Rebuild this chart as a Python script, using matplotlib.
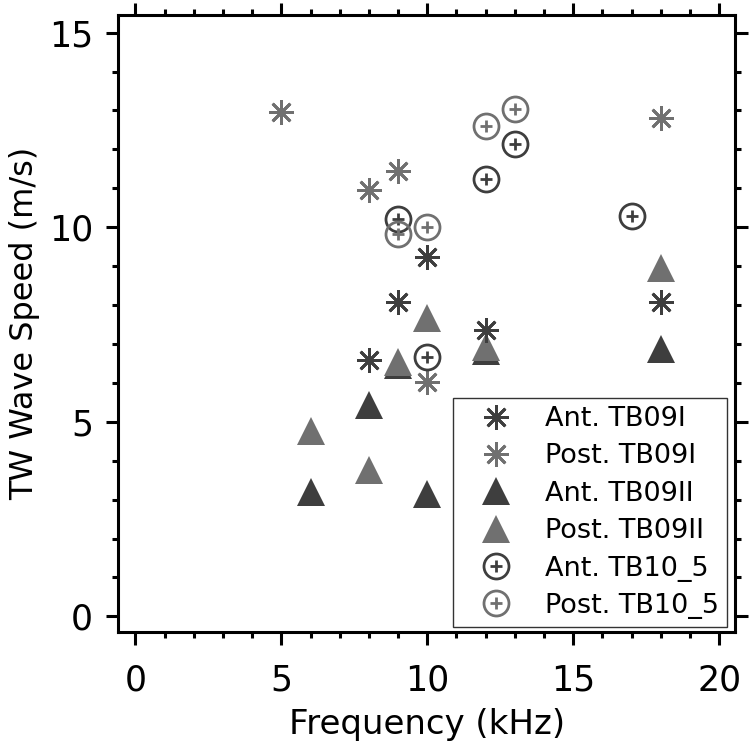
import matplotlib
matplotlib.use("Agg")
import matplotlib.pyplot as plt
from matplotlib.legend_handler import HandlerTuple
from matplotlib.ticker import MultipleLocator

plt.rcParams['font.family'] = ['DejaVu Sans']

# Data
ant_tb09i_f = [8, 9, 10, 12, 18]
ant_tb09i_v = [6.6, 8.08, 9.23, 7.36, 8.08]
post_tb09i_f = [5, 8, 9, 10, 18]
post_tb09i_v = [12.95, 10.95, 11.45, 6.03, 12.8]
ant_tb09ii_f = [6, 8, 9, 10, 12, 18]
ant_tb09ii_v = [3.19, 5.42, 6.47, 3.14, 6.81, 6.86]
post_tb09ii_f = [6, 8, 9, 10, 12, 18]
post_tb09ii_v = [4.76, 3.76, 6.53, 7.68, 6.93, 8.94]
ant_tb10_f = [9, 10, 12, 13, 17]
ant_tb10_v = [10.2, 6.67, 11.23, 12.15, 10.28]
post_tb10_f = [9, 10, 12, 13]
post_tb10_v = [9.82, 10.0, 12.59, 13.03]

labels = ["Ant. TB09I", "Post. TB09I", "Ant. TB09II", "Post. TB09II",
          "Ant. TB10_5", "Post. TB10_5"]

dark = '#3e3e3e'
gray = '#707070'

fig = plt.figure(figsize=(7.51, 7.45), dpi=100)
ax = fig.add_axes([0.157, 0.1517, 0.822, 0.828])

ast = (8, 2, 0)
ast_kw = dict(linestyle='none', marker=ast, markersize=18, markeredgewidth=2)
tri_kw = dict(linestyle='none', marker='^', markersize=19.5, markeredgewidth=0)
circ_kw = dict(linestyle='none', marker='o', markersize=18, markeredgewidth=2,
               markerfacecolor='none')
plus_kw = dict(linestyle='none', marker='+', markersize=8, markeredgewidth=2)

h_tri_a, = ax.plot(ant_tb09ii_f, ant_tb09ii_v, color=dark, **tri_kw)
h_tri_p, = ax.plot(post_tb09ii_f, post_tb09ii_v, color=gray, **tri_kw)
h_ast_a, = ax.plot(ant_tb09i_f, ant_tb09i_v, color=dark, **ast_kw)
h_ast_p, = ax.plot(post_tb09i_f, post_tb09i_v, color=gray, **ast_kw)
h_c_a, = ax.plot(ant_tb10_f, ant_tb10_v, color=dark, **circ_kw)
h_cp_a, = ax.plot(ant_tb10_f, ant_tb10_v, color=dark, **plus_kw)
h_c_p, = ax.plot(post_tb10_f, post_tb10_v, color=gray, **circ_kw)
h_cp_p, = ax.plot(post_tb10_f, post_tb10_v, color=gray, **plus_kw)

ax.set_xlim(-0.6, 20.55)
ax.set_ylim(-0.4, 15.45)
ax.xaxis.set_major_locator(MultipleLocator(5))
ax.xaxis.set_minor_locator(MultipleLocator(1))
ax.yaxis.set_major_locator(MultipleLocator(5))
ax.yaxis.set_minor_locator(MultipleLocator(1))

for s in ax.spines.values():
    s.set_linewidth(2.2)
ax.tick_params(which='both', direction='out', top=True, right=True,
               labeltop=False, labelright=False, width=2.2)
ax.tick_params(which='major', length=9, labelsize=25)
ax.tick_params(axis='x', which='major', pad=14)
ax.tick_params(axis='y', which='major', pad=9)
ax.tick_params(which='minor', length=4.5)

ax.set_xlabel("Frequency (kHz)", fontsize=24.5, labelpad=7)
ax.set_ylabel("TW Wave Speed (m/s)", fontsize=23, labelpad=6)

handles = [h_ast_a, h_ast_p, h_tri_a, h_tri_p, (h_c_a, h_cp_a), (h_c_p, h_cp_p)]
leg = ax.legend(handles, labels, loc='lower right', fontsize=19.5,
                bbox_to_anchor=(0.987, 0.008), borderaxespad=0.0,
                frameon=True, fancybox=False, edgecolor='black',
                labelspacing=0.42, handlelength=2.6,
                handletextpad=0.5, borderpad=0.3,
                handler_map={tuple: HandlerTuple(ndivide=1)})
leg.get_frame().set_linewidth(1.0)

fig.savefig("out.png", dpi=100)
